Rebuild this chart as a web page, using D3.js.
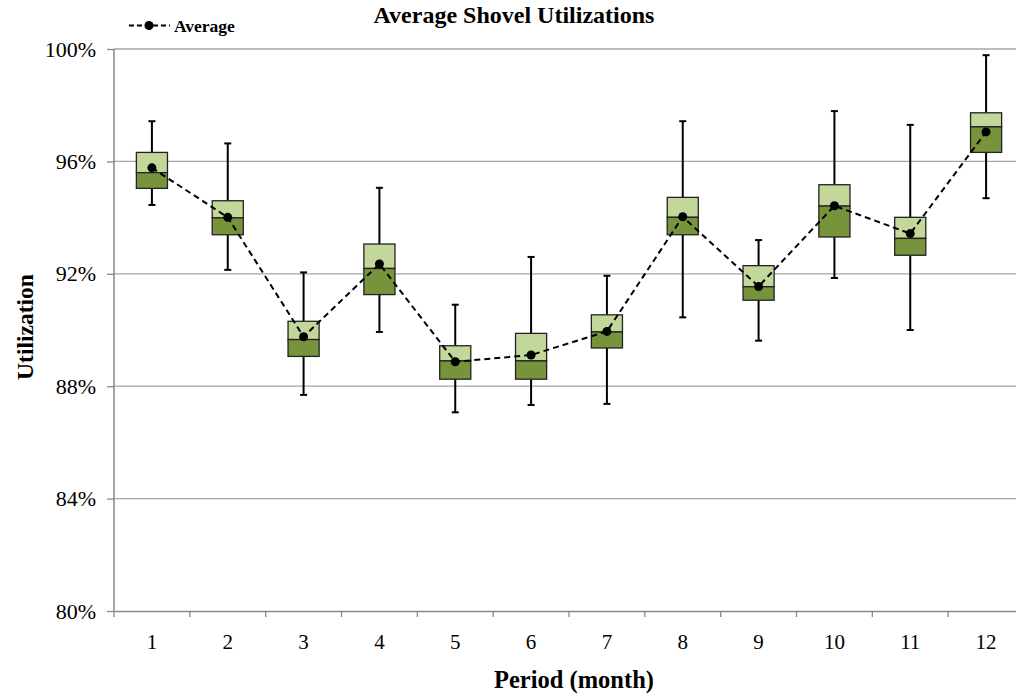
<!DOCTYPE html>
<html><head><meta charset="utf-8">
<script src="https://cdn.jsdelivr.net/npm/d3@7/dist/d3.min.js"></script>
<style>body{margin:0;background:#fff}svg{display:block}</style>
</head><body><svg id="c" width="1016" height="696"></svg>
<script>
const periods = ["1","2","3","4","5","6","7","8","9","10","11","12"];
const whiskerLow  = [94.45,92.14,87.69,89.93,87.07,87.33,87.37,90.45,89.62,91.85,90.00,94.69];
const q1          = [95.04,93.39,89.06,91.26,88.25,88.25,89.36,93.39,91.06,93.31,92.66,96.32];
const median      = [95.60,93.99,89.66,92.19,88.90,88.90,89.93,94.01,91.54,94.41,93.26,97.23];
const q3          = [96.32,94.60,90.31,93.06,89.44,89.88,90.54,94.72,92.29,95.17,94.01,97.73];
const whiskerHigh = [97.43,96.64,92.05,95.06,90.90,92.60,91.93,97.43,93.20,97.79,97.30,99.78];
const average     = [95.77,94.01,89.76,92.35,88.87,89.11,89.95,94.03,91.55,94.42,93.43,97.05];
const yTicks = [80,84,88,92,96,100];

(function(){
const svg = d3.select("#c");
const pl = 114, pr = 1024, pt = 49, pb = 611;
const x = d3.scaleBand().domain(periods).range([pl, pr]).padding(0);
const y = d3.scaleLinear().domain([80,100]).range([pb, pt]);
const font = "'Liberation Serif','Times New Roman',serif";

// gridlines
svg.append("g").selectAll("line").data(yTicks.filter(d=>d>80)).join("line")
  .attr("x1", pl).attr("x2", pr).attr("y1", d=>y(d)).attr("y2", d=>y(d))
  .attr("stroke", "#a6a6a6").attr("stroke-width", 1.3);

// y axis
const ya = svg.append("g").attr("transform", `translate(${pl},0)`)
  .call(d3.axisLeft(y).tickValues(yTicks).tickFormat(d=>d+"%").tickSize(7).tickPadding(11));
ya.select(".domain").attr("stroke","#888").attr("stroke-width",1.5).attr("d",`M0,${pt}V${pb}`);
ya.selectAll(".tick line").attr("stroke","#888").attr("stroke-width",1.3);
ya.selectAll("text").attr("font-family",font).attr("font-size",22).attr("fill","#000");

// x axis
const xa = svg.append("g").attr("transform", `translate(0,${pb})`)
  .call(d3.axisBottom(x).tickSize(0).tickPadding(23));
xa.select(".domain").attr("stroke","#888").attr("stroke-width",1.5);
xa.selectAll("text").attr("font-family",font).attr("font-size",21).attr("fill","#000");
svg.append("g").selectAll("line").data(periods).join("line")
  .attr("x1", d=>x(d)).attr("x2", d=>x(d)).attr("y1", pb).attr("y2", pb+6)
  .attr("stroke","#888").attr("stroke-width",1.3);

// boxes
const bw = x.bandwidth()*0.41, cap = 7;
const g = svg.append("g");
periods.forEach((p,i)=>{
  const cx = x(p) + x.bandwidth()/2;
  g.append("line").attr("x1",cx).attr("x2",cx).attr("y1",y(whiskerHigh[i])).attr("y2",y(q3[i]))
    .attr("stroke","#000").attr("stroke-width",2);
  g.append("line").attr("x1",cx).attr("x2",cx).attr("y1",y(q1[i])).attr("y2",y(whiskerLow[i]))
    .attr("stroke","#000").attr("stroke-width",2);
  [whiskerHigh[i], whiskerLow[i]].forEach(v=>{
    g.append("line").attr("x1",cx-cap/2).attr("x2",cx+cap/2).attr("y1",y(v)).attr("y2",y(v))
      .attr("stroke","#000").attr("stroke-width",2);
  });
  g.append("rect").attr("x",cx-bw/2).attr("width",bw).attr("y",y(q3[i])).attr("height",y(median[i])-y(q3[i]))
    .attr("fill","#c4d79b").attr("stroke","#222").attr("stroke-width",1.3);
  g.append("rect").attr("x",cx-bw/2).attr("width",bw).attr("y",y(median[i])).attr("height",y(q1[i])-y(median[i]))
    .attr("fill","#77933c").attr("stroke","#222").attr("stroke-width",1.3);
});

// average line
const line = d3.line().x((d,i)=>x(periods[i])+x.bandwidth()/2).y(d=>y(d));
svg.append("path").datum(average).attr("d",line).attr("fill","none")
  .attr("stroke","#000").attr("stroke-width",2).attr("stroke-dasharray","6,4");
svg.append("g").selectAll("circle").data(average).join("circle")
  .attr("cx",(d,i)=>x(periods[i])+x.bandwidth()/2).attr("cy",d=>y(d)).attr("r",4.5).attr("fill","#000");

// title
svg.append("text").attr("x",514).attr("y",23).attr("text-anchor","middle")
  .attr("font-family",font).attr("font-weight","bold").attr("font-size",24).text("Average Shovel Utilizations");
// legend
svg.append("line").attr("x1",129).attr("x2",170).attr("y1",25.5).attr("y2",25.5)
  .attr("stroke","#000").attr("stroke-width",2).attr("stroke-dasharray","5,3");
svg.append("circle").attr("cx",149).attr("cy",25.5).attr("r",4.5).attr("fill","#000");
svg.append("text").attr("x",174).attr("y",32).attr("font-family",font).attr("font-weight","bold")
  .attr("font-size",17.5).text("Average");
// axis titles
svg.append("text").attr("transform","translate(33,327) rotate(-90)").attr("text-anchor","middle")
  .attr("font-family",font).attr("font-weight","bold").attr("font-size",23.5).text("Utilization");
svg.append("text").attr("x",574).attr("y",688).attr("text-anchor","middle")
  .attr("font-family",font).attr("font-weight","bold").attr("font-size",24.5).text("Period (month)");
})();
</script></body></html>
